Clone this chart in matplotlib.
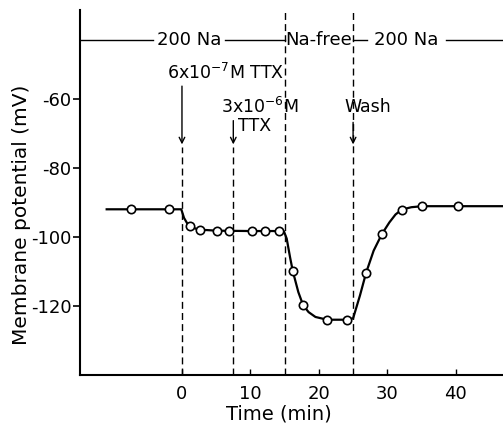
import matplotlib
matplotlib.use("Agg")
import matplotlib.pyplot as plt

plt.rcParams["axes.unicode_minus"] = False

# measured points (time in min, membrane potential in mV)
pt_time = [-7.4, -1.9, 1.2, 2.6, 5.1, 6.8, 10.2, 12.1, 14.2,
           16.2, 17.7, 21.2, 24.1, 26.9, 29.2, 32.1, 35.1, 40.3]
pt_mv = [-91.8, -91.8, -96.9, -97.9, -98.2, -98.3, -98.3, -98.3, -98.3,
         -110.0, -119.8, -124.0, -124.0, -110.4, -99.2, -92.1, -91.1, -91.1]

# drawn smooth curve
curve_time = [-11, -0.1, 0.3, 0.8, 1.2, 2.0, 2.6, 5.1, 10, 14.2, 14.9, 15.3,
              15.8, 16.2, 17.0, 17.7, 18.5, 19.5, 21.2, 24.1, 25.0,
              26.0, 26.9, 28.0, 29.2, 30.3, 31.2, 32.1, 33.5, 35.1, 40.3, 47]
curve_mv = [-92, -92, -94.5, -96.2, -96.9, -97.6, -97.9, -98.2, -98.3, -98.3, -98.4, -100.5,
            -106, -110.0, -116.0, -119.8, -121.8, -123.2, -124.0, -124.0, -123.6,
            -117.0, -110.4, -104.0, -99.2, -95.8, -93.5, -92.1, -91.4, -91.1, -91.1, -91.1]

xticks = [0, 10, 20, 30, 40]
yticks = [-60, -80, -100, -120]

fig = plt.figure(figsize=(5.03, 4.28), dpi=100)
ax = fig.add_axes([0.159, 0.124, 0.841, 0.853])
ax.set_xlim(-14.9, 46.9)
ax.set_ylim(-140, -34.2)

for s in ["top", "right"]:
    ax.spines[s].set_visible(False)
for s in ["left", "bottom"]:
    ax.spines[s].set_linewidth(1.5)

ax.set_xticks(xticks)
ax.set_yticks(yticks)
ax.tick_params(axis="x", direction="in", length=4, width=1, labelsize=13, pad=7)
ax.tick_params(axis="y", direction="out", length=5, width=1.2, labelsize=13, pad=1)

dash = (0, (5, 3))
# vertical dashed lines
ax.plot([0, 0], [-140, -74], color="black", lw=1, ls=dash)
ax.plot([7.5, 7.5], [-140, -74], color="black", lw=1, ls=dash)
ax.plot([15, 15], [-140, -34.2], color="black", lw=1, ls=dash)
ax.plot([25, 25], [-140, -34.2], color="black", lw=1, ls=dash)

# curve and points
ax.plot(curve_time, curve_mv, color="black", lw=1.6, zorder=3)
ax.plot(pt_time, pt_mv, ls="none", marker="o", ms=6, mfc="white", mec="black",
        mew=1.2, zorder=4)

fs = 13
# solution bars
ybar = -43
ax.plot([-14.9, -4.3], [ybar, ybar], color="black", lw=1)
ax.plot([6.3, 15], [ybar, ybar], color="black", lw=1)
ax.plot([25, 27.0], [ybar, ybar], color="black", lw=1)
ax.plot([38.6, 46.9], [ybar, ybar], color="black", lw=1)
ax.text(1.0, ybar, "200 Na", ha="center", va="center", fontsize=fs)
ax.text(20, ybar, "Na-free", ha="center", va="center", fontsize=fs)
ax.text(32.8, ybar, "200 Na", ha="center", va="center", fontsize=fs)

# TTX and wash annotations
arrow_kw = dict(arrowstyle="->", color="black", lw=1, mutation_scale=10)
ax.text(6.4, -52.5, r"6x10$^{-7}$M TTX", ha="center", va="center", fontsize=12.5)
ax.annotate("", xy=(0, -74), xytext=(0, -55.5), arrowprops=arrow_kw)
ax.text(11.4, -62.3, r"3x10$^{-6}$M", ha="center", va="center", fontsize=12.5)
ax.text(10.6, -68, "TTX", ha="center", va="center", fontsize=12.5)
ax.annotate("", xy=(7.5, -74), xytext=(7.5, -65.5), arrowprops=arrow_kw)
ax.text(27.1, -62.3, "Wash", ha="center", va="center", fontsize=12.5)
ax.annotate("", xy=(25, -74), xytext=(25, -66), arrowprops=arrow_kw)

fig.text(279 / 503, 1 - 414 / 428, "Time (min)", ha="center", va="center", fontsize=14)
fig.text(22 / 503, 1 - 215 / 428, "Membrane potential (mV)", ha="center", va="center",
         rotation=90, fontsize=14.5)

fig.savefig("out.png", dpi=100)
